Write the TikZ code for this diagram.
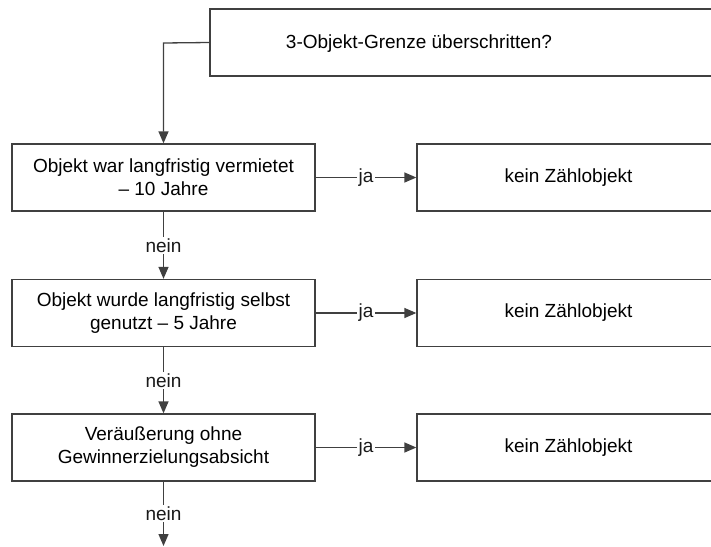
\documentclass[tikz,border=0pt]{standalone}
\usepackage{fontspec}
\setmainfont{Liberation Sans}
\usetikzlibrary{arrows.meta}
\begin{document}
\begin{tikzpicture}[x=1pt,y=-1pt,
  font=\fontsize{19}{23}\selectfont,
  box/.style={draw=black!75, line width=1.3pt, minimum width=303pt, minimum height=67pt,
    inner sep=0pt, align=center},
  conn/.style={draw=black!75, line width=1.3pt},
  arr/.style={conn, -{Triangle[length=12pt,width=10pt]}},
  lbl/.style={fill=white, inner sep=1.5pt, text=black!90}]
  \useasboundingbox (0,0) rectangle (711,546);
  \clip (0,0) rectangle (711,546);

  % question box at the top (runs off the right edge)
  \node[box, minimum width=510pt] (top) at (465,42.5) {};
  \node (toptext) at (419,44) {3-Objekt-Grenze überschritten?};

  % checks on the left
  \node[box] (b1) at (163.5,177.5) {Objekt war langfristig vermietet\\– 10 Jahre};
  \node[box] (b2) at (163.5,313) {Objekt wurde langfristig selbst\\genutzt – 5 Jahre};
  \node[box] (b3) at (163.5,447.5) {Veräußerung ohne\\Gewinnerzielungsabsicht};

  % outcomes on the right
  \node[box] (r1) at (568.5,177.5) {kein Zählobjekt};
  \node[box] (r2) at (568.5,313) {kein Zählobjekt};
  \node[box] (r3) at (568.5,447.5) {kein Zählobjekt};

  \coordinate (bend) at (163.5,43);
  \coordinate (out) at (163.5,546);

  % entry path
  \draw[arr] (top.west) -- (bend) -- (b1.north);

  % "ja" branches
  \draw[arr] (b1) -- node[lbl]{ja} (r1);
  \draw[arr] (b2) -- node[lbl]{ja} (r2);
  \draw[arr] (b3) -- node[lbl]{ja} (r3);

  % "nein" chain
  \draw[arr] (b1) -- node[lbl]{nein} (b2);
  \draw[arr] (b2) -- node[lbl]{nein} (b3);
  \draw[arr] (b3) -- node[lbl]{nein} (out);
\end{tikzpicture}
\end{document}
